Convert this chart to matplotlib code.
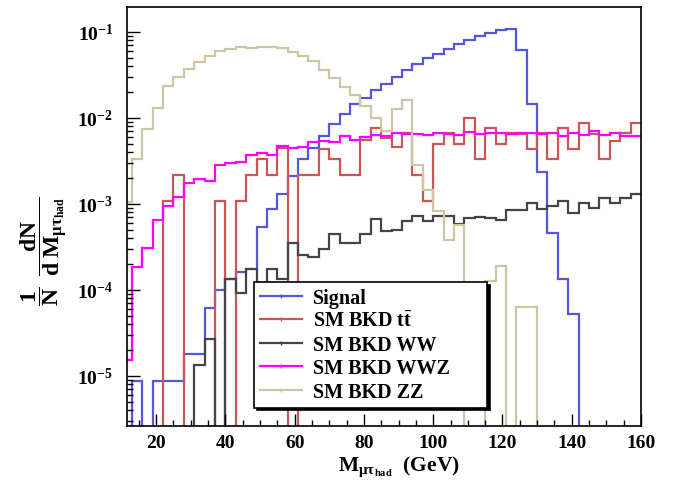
import numpy as np
import matplotlib
matplotlib.use("Agg")
import matplotlib.pyplot as plt
from matplotlib.lines import Line2D
from matplotlib.ticker import MultipleLocator, LogLocator, FuncFormatter, NullFormatter

plt.rcParams['font.family'] = ['Liberation Serif', 'DejaVu Serif']
plt.rcParams['font.weight'] = 'bold'
plt.rcParams['mathtext.fontset'] = 'custom'
plt.rcParams['mathtext.rm'] = 'Liberation Serif'
plt.rcParams['mathtext.bf'] = 'Liberation Serif:bold'
plt.rcParams['mathtext.it'] = 'Liberation Serif:italic'

# histogram binning: 50 bins of 3 GeV from 10 to 160
bin_edges = np.linspace(10, 160, 51)

signal = [0, 8.8e-6, 0, 8.8e-6, 8.8e-6, 8.8e-6, 1.79e-5, 1.79e-5, 6.2e-5, 1.0e-4,
          1.33e-4, 1.62e-4, 1.75e-4, 5.4e-4, 8.8e-4, 1.32e-3, 2.12e-3, 3.37e-3, 4.44e-3, 6.2e-3,
          8.4e-3, 0.011, 0.0144, 0.0172, 0.021, 0.0246, 0.030, 0.036, 0.042, 0.050,
          0.055, 0.064, 0.073, 0.080, 0.089, 0.097, 0.104, 0.108, 0.0615, 0.0145,
          2.35e-3, 4.65e-4, 1.33e-4, 5.3e-5, 0, 0, 0, 0, 0, 0]

ttbar = [0, 0, 0, 0, 1.08e-3, 2.2e-3, 0, 0, 0, 1.08e-3,
         0, 1.08e-3, 2.2e-3, 3.3e-3, 2.2e-3, 4.5e-3, 0, 2.2e-3, 2.2e-3, 4.4e-3,
         3.3e-3, 2.2e-3, 2.2e-3, 5.5e-3, 7.7e-3, 5.9e-3, 4.6e-3, 6.6e-3, 2.2e-3, 1.08e-3,
         5.0e-3, 6.6e-3, 5.0e-3, 9.9e-3, 3.3e-3, 7.7e-3, 5.0e-3, 6.75e-3, 6.5e-3, 4.4e-3,
         6.75e-3, 3.3e-3, 7.7e-3, 4.4e-3, 8.8e-3, 6.5e-3, 3.3e-3, 5.4e-3, 6.75e-3, 8.8e-3]

ww = [0, 0, 0, 0, 0, 0, 0, 1.34e-5, 2.67e-5, 0,
      1.33e-4, 9.1e-5, 1.74e-4, 1.22e-4, 1.74e-4, 1.33e-4, 3.5e-4, 2.55e-4, 2.4e-4, 2.97e-4,
      4.5e-4, 3.5e-4, 3.5e-4, 4.45e-4, 6.6e-4, 4.9e-4, 5.0e-4, 6.3e-4, 7.2e-4, 6.4e-4,
      7.2e-4, 7.2e-4, 5.8e-4, 6.8e-4, 7.0e-4, 6.8e-4, 6.5e-4, 8.5e-4, 8.4e-4, 1.02e-3,
      8.7e-4, 9.5e-4, 1.08e-3, 7.9e-4, 1.02e-3, 8.9e-4, 1.16e-3, 1.02e-3, 1.16e-3, 1.29e-3]

wwz = [1.55e-5, 1.85e-4, 3.1e-4, 6.5e-4, 9.5e-4, 1.21e-3, 1.77e-3, 1.94e-3, 1.85e-3, 2.84e-3,
       3.03e-3, 3.08e-3, 3.68e-3, 3.95e-3, 3.68e-3, 4.72e-3, 4.5e-3, 4.65e-3, 5.3e-3, 5.4e-3,
       5.3e-3, 6.2e-3, 5.55e-3, 6.07e-3, 6.3e-3, 6.2e-3, 6.75e-3, 6.45e-3, 6.45e-3, 6.3e-3,
       6.75e-3, 6.45e-3, 6.3e-3, 6.8e-3, 6.5e-3, 6.6e-3, 6.6e-3, 6.5e-3, 6.6e-3, 6.6e-3,
       6.55e-3, 6.6e-3, 6.2e-3, 6.7e-3, 6.4e-3, 7.0e-3, 6.4e-3, 6.6e-3, 6.2e-3, 6.1e-3]

zz = [1.05e-3, 3.3e-3, 7.4e-3, 0.0132, 0.0235, 0.030, 0.0368, 0.0448, 0.0526, 0.0596,
      0.0628, 0.067, 0.0658, 0.067, 0.067, 0.0658, 0.0585, 0.0526, 0.0455, 0.036,
      0.029, 0.023, 0.0187, 0.0138, 0.0101, 0.00707, 0.0126, 0.0163, 0.00283, 0.00147,
      8.2e-4, 3.8e-4, 5.7e-4, 0, 0, 1.27e-4, 1.9e-4, 0, 6.3e-5, 6.3e-5,
      0, 0, 0, 0, 0, 0, 0, 0, 0, 0]

labels = ['Signal', r'SM BKD t$\bar{\mathbf{t}}$', 'SM BKD WW', 'SM BKD WWZ', 'SM BKD ZZ']
colors = ['#5656dc', '#cc5656', '#454545', '#ff00ff', '#cdc5a6']
series = [signal, ttbar, ww, wwz, zz]

fig = plt.figure(figsize=(6.74, 4.85), dpi=100)
ax = fig.add_axes([127/674, 1-427/485, (641-127)/674, (427-8)/485])

for vals, c in zip(series, colors):
    v = np.asarray(vals, dtype=float)
    v = np.where(v > 0, v, 1e-12)
    ax.stairs(v, bin_edges, color=c, lw=1.6, baseline=None)

ax.set_yscale('log')
ax.set_xlim(11.6, 160)
ax.set_ylim(2.62e-6, 0.195)

ax.xaxis.set_major_locator(MultipleLocator(20))
ax.xaxis.set_minor_locator(MultipleLocator(5))
ax.yaxis.set_major_locator(LogLocator(base=10, numticks=12))
ax.yaxis.set_minor_locator(LogLocator(base=10, subs=np.arange(2, 10), numticks=12))
ax.yaxis.set_minor_formatter(NullFormatter())
ax.yaxis.set_major_formatter(FuncFormatter(lambda v, p: r'$\mathbf{10^{%d}}$' % int(round(np.log10(v)))))

ax.tick_params(axis='both', which='both', direction='in', top=False, right=False, width=1)
ax.tick_params(axis='both', which='major', length=9, labelsize=14)
ax.tick_params(axis='both', which='minor', length=4.5)
ax.tick_params(axis='x', which='major', pad=6)
ax.tick_params(axis='y', which='major', pad=10)
for lab in ax.get_xticklabels():
    lab.set_fontweight('bold')
for s in ax.spines.values():
    s.set_linewidth(1.2)

ax.set_xlabel(r'$\mathbf{M}_{\mathrm{\mu\tau}_{\mathrm{had}}}$  (GeV)', fontsize=15.5, fontweight='bold')
ax.xaxis.set_label_coords(0.53, -0.066)
ax.set_ylabel(r'$\dfrac{\mathbf{1}}{\mathbf{N}}\;\;\dfrac{\mathbf{dN}}{\mathbf{d\;M}_{\mathrm{\mu\tau}_{\mathrm{had}}}}$',
              fontsize=17, fontweight='bold')
ax.yaxis.set_label_coords(-0.11, 0.42)

handles = [Line2D([], [], color=c, lw=1.6, marker='|', markersize=3, markeredgewidth=1) for c in colors]
leg = ax.legend(handles, labels, loc='upper left', bbox_to_anchor=(0.247, 0.0525, 0.453, 0.2915),
                mode='expand', fancybox=False, framealpha=1, edgecolor='black',
                shadow={'color': 'black', 'alpha': 1},
                prop={'family': 'Liberation Serif', 'weight': 'bold', 'size': 14.5},
                handlelength=2.1, handletextpad=0.55, labelspacing=0.17, borderaxespad=0, borderpad=0.3)
leg.get_frame().set_linewidth(1.2)

fig.savefig('out.png', dpi=100)
